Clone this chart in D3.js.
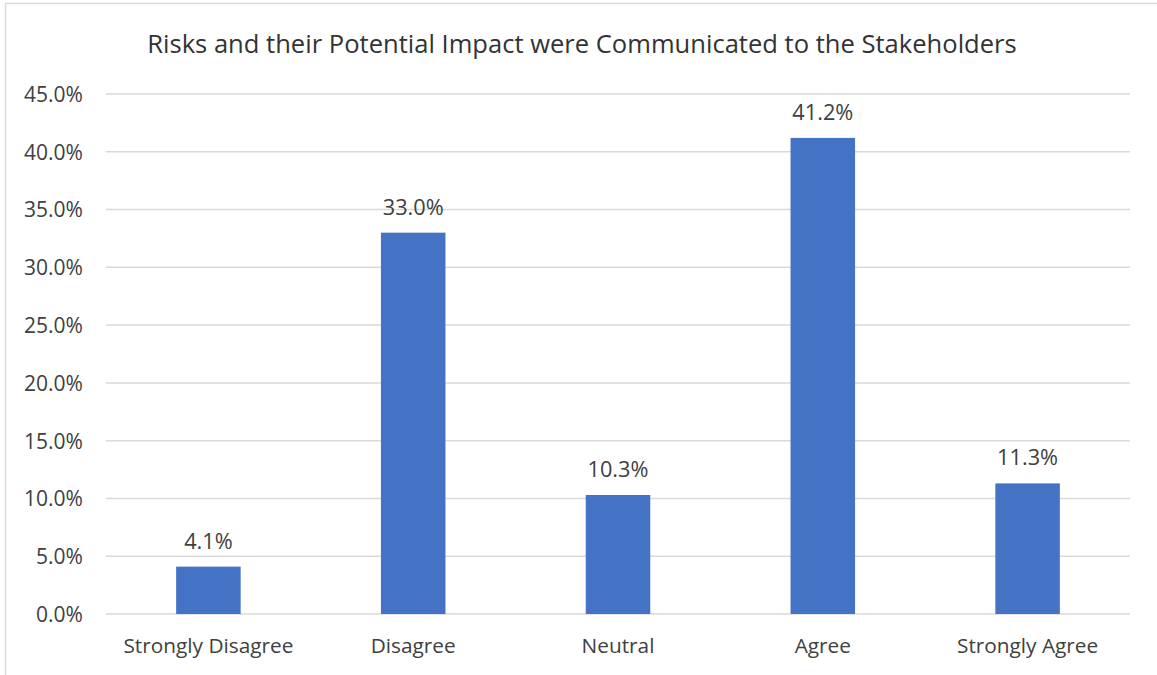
<!DOCTYPE html>
<html>
<head>
<meta charset="utf-8">
<script src="https://cdn.jsdelivr.net/npm/d3@7"></script>
<style>
  html, body { margin: 0; padding: 0; background: #fff; }
  svg { display: block; }
  text { font-family: "Open Sans", sans-serif; }
</style>
</head>
<body>
<svg id="chart" width="1157" height="675"></svg>
<script>
const title = "Risks and their Potential Impact were Communicated to the Stakeholders";
const categories = ["Strongly Disagree", "Disagree", "Neutral", "Agree", "Strongly Agree"];
const values = [4.1, 33.0, 10.3, 41.2, 11.3];
const yTicks = [0, 5, 10, 15, 20, 25, 30, 35, 40, 45];

const W = 1157, H = 675;
const margin = { left: 106, right: 27, top: 94, bottom: 61 };
const svg = d3.select("#chart");

// chart border (partially cropped in the reference)
svg.append("rect")
  .attr("x", 5.5).attr("y", 3.5)
  .attr("width", W + 20).attr("height", H + 20)
  .attr("fill", "none").attr("stroke", "#d9d9d9").attr("stroke-width", 1.5);

const x = d3.scaleBand().domain(categories)
  .range([margin.left, W - margin.right])
  .paddingInner(0.685).paddingOuter(0.3425);
const y = d3.scaleLinear().domain([0, 45]).range([H - margin.bottom, margin.top]);

// fit helper: scale font size so text width matches target
function fit(sel, text, targetW, base) {
  const t = svg.append("text").attr("font-size", base).text(text);
  const w = t.node().getComputedTextLength();
  t.remove();
  return base * targetW / w;
}
const titleSize = fit(svg, title, 870, 20);
const tickSize = fit(svg, "45.0%", 59, 20);
const catSize = fit(svg, "Strongly Disagree", 170, 20);
const valSize = fit(svg, "33.0%", 61, 20);

// gridlines
svg.append("g").selectAll("line").data(yTicks).join("line")
  .attr("x1", margin.left).attr("x2", W - margin.right)
  .attr("y1", d => y(d)).attr("y2", d => y(d))
  .attr("stroke", "#d9d9d9").attr("stroke-width", 1.5);

// y axis labels
const yAxis = d3.axisLeft(y).tickValues(yTicks).tickSize(0).tickPadding(23)
  .tickFormat(d => d.toFixed(1) + "%");
const gy = svg.append("g").attr("transform", `translate(${margin.left},0)`).call(yAxis);
gy.select(".domain").remove();
gy.selectAll("text").attr("font-size", tickSize).attr("fill", "#404040")
  .attr("font-family", "Open Sans, sans-serif").attr("dy", "0.35em");

// x axis labels
const xAxis = d3.axisBottom(x).tickSize(0).tickPadding(0);
const gx = svg.append("g").attr("transform", `translate(0,${y(0)})`).call(xAxis);
gx.select(".domain").remove();
gx.selectAll("text").attr("font-size", catSize).attr("fill", "#404040")
  .attr("font-family", "Open Sans, sans-serif").attr("dy", null).attr("y", 39);

// bars
svg.append("g").selectAll("rect").data(values).join("rect")
  .attr("x", (d, i) => x(categories[i]))
  .attr("width", x.bandwidth())
  .attr("y", d => y(d))
  .attr("height", d => y(0) - y(d))
  .attr("fill", "#4472c4");

// value labels
svg.append("g").selectAll("text").data(values).join("text")
  .attr("x", (d, i) => x(categories[i]) + x.bandwidth() / 2)
  .attr("y", d => y(d) - 18)
  .attr("text-anchor", "middle")
  .attr("font-size", valSize).attr("fill", "#404040")
  .text(d => d.toFixed(1) + "%");

// title
svg.append("text")
  .attr("x", 582).attr("y", 53)
  .attr("text-anchor", "middle")
  .attr("font-size", titleSize).attr("fill", "#333333")
  .text(title);
</script>
</body>
</html>
